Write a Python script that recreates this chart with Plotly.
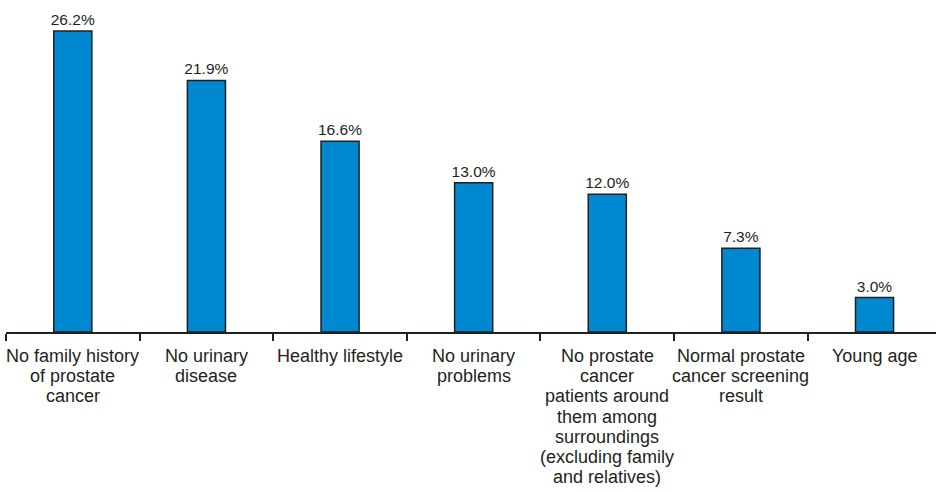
import plotly.graph_objects as go

# Reasons given for not getting screened (share of respondents, %)
categories = [
    "No family history of prostate cancer",
    "No urinary disease",
    "Healthy lifestyle",
    "No urinary problems",
    "No prostate cancer patients around them among surroundings (excluding family and relatives)",
    "Normal prostate cancer screening result",
    "Young age",
]
# Wrapped category labels, one list of lines per bar
label_lines = [
    ["No family history", "of prostate", "cancer"],
    ["No urinary", "disease"],
    ["Healthy lifestyle"],
    ["No urinary", "problems"],
    ["No prostate", "cancer", "patients around", "them among", "surroundings",
     "(excluding family", "and relatives)"],
    ["Normal prostate", "cancer screening", "result"],
    ["Young age"],
]
percentages = [26.2, 21.9, 16.6, 13.0, 12.0, 7.3, 3.0]

ink = "#231f20"
font_family = "Liberation Sans, Arial, Helvetica, sans-serif"
label_size = 18
line_step = 20.2   # px between wrapped label lines
first_offset = 12  # px from axis line to top of first label line

fig = go.Figure(
    go.Bar(
        x=categories,
        y=percentages,
        width=0.285,
        marker=dict(color="#0088d1", line=dict(color=ink, width=1.5)),
        texttemplate="%{y:.1f}%",
        textposition="outside",
        constraintext="none",
        textfont=dict(family=font_family, size=15.5, color=ink),
        cliponaxis=False,
    )
)

# Category labels below the axis, drawn line by line for tight leading
annotations = []
for cat, lines in zip(categories, label_lines):
    for i, line in enumerate(lines):
        annotations.append(
            dict(
                x=cat,
                y=0,
                xref="x",
                yref="y",
                text=line,
                showarrow=False,
                xanchor="center",
                yanchor="top",
                yshift=-(first_offset + i * line_step),
                font=dict(family=font_family, size=label_size, color=ink),
            )
        )

fig.update_layout(
    width=936,
    height=492,
    margin=dict(l=6, r=0, t=0, b=160),
    paper_bgcolor="white",
    plot_bgcolor="white",
    showlegend=False,
    font=dict(family=font_family, size=16, color=ink),
    annotations=annotations,
)
fig.update_xaxes(
    type="category",
    range=[-0.5, 6.46],
    showline=True,
    linecolor=ink,
    linewidth=1.5,
    ticks="outside",
    tickson="boundaries",
    ticklen=7,
    tickwidth=1.5,
    tickcolor=ink,
    showticklabels=False,
    showgrid=False,
)
fig.update_yaxes(
    range=[0, 28.9],
    visible=False,
    showgrid=False,
    zeroline=False,
)

fig.write_html("out.html")
